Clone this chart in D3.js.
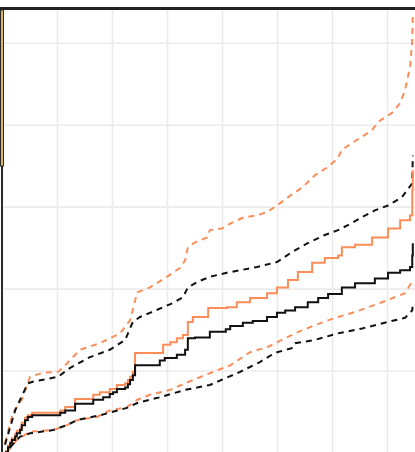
<!DOCTYPE html>
<html><head><meta charset="utf-8">
<script src="https://cdn.jsdelivr.net/npm/d3@7"></script>
<style>html,body{margin:0;padding:0;background:#fff;overflow:hidden}</style>
</head><body>
<svg id="c" width="415" height="452"></svg>
<script>
// x ticks (grid), y ticks (grid)
const xTicks = [100, 200, 300, 400, 500, 600, 700];
const yTicks = [10, 20, 30, 40, 50];

// Group A (black) step estimate
const blackT = [4.5,10,14,17,23,26,32,35,41,46,54,105,114,132,165,183,195,201,208,223,228,232,237,241,286,295,317,332,337,350,377,406,414,437,455,481,499,514,532,555,574,592,617,641,677,701,723,741,745,746];
const blackV = [0.1,0.7,1.2,1.6,2.0,2.4,2.8,3.4,4.0,4.4,4.6,4.9,5.2,6.0,6.5,6.8,7.2,7.4,7.8,8.0,8.4,8.9,9.5,10.7,11.3,11.6,12.0,12.6,14.0,14.1,14.8,15.1,15.5,15.9,16.1,16.6,17.1,17.4,17.8,18.4,18.9,19.4,20.2,20.7,21.3,22.0,22.3,22.7,24.1,25.6];

// Group B (orange) step estimate
const orangeT = [4.5,10,14,17,23,26,32,35,41,46,54,105,114,132,165,177,195,208,223,228,232,237,241,292,305,317,328,337,346,374,408,426,450,481,499,519,537,563,586,610,617,641,672,701,723,741,745,746];
const orangeV = [0.2,0.9,1.3,1.8,2.3,2.7,3.0,3.7,4.3,4.6,4.9,5.2,5.6,6.6,7.1,7.4,7.8,8.3,8.5,8.9,9.3,9.9,12.2,13.2,13.5,14.0,14.4,16.0,16.6,17.7,17.8,18.4,18.9,19.5,20.2,21.1,22.1,23.2,23.8,24.1,25.1,25.4,26.3,27.4,28.4,29.0,32.1,34.5];

// Orange confidence band
const orangeUpT = [4.5,19,35,50,74,101,114,141,177,214,232,245,268,299,323,332,337,350,372,377,399,414,437,463,481,499,519,545,568,592,610,617,635,672,683,708,723,732,741,745,746];
const orangeUpV = [1.2,4.9,6.5,9.3,9.8,9.9,10.7,12.6,13.4,14.6,16.2,19.6,20.2,21.5,22.6,23.5,25.1,25.7,26.3,27.2,27.4,28.0,28.7,29.0,29.4,30.2,31.2,32.4,33.9,34.9,36.0,37.0,37.8,39.4,40.4,41.5,42.7,44.3,47.1,50.4,53.7];
const orangeLoT = [8,26,50,92,117,135,172,195,226,245,268,305,332,368,414,450,481,499,532,568,605,641,690,732,746];
const orangeLoV = [0.1,1.6,2.6,2.8,3.4,4.0,4.4,5.2,5.6,6.5,7.1,7.7,8.5,9.5,10.7,12.3,12.9,13.5,14.6,15.6,16.5,17.2,18.4,19.5,21.1];

// Black confidence band
const blackUpT = [4.5,23,46,55,101,123,159,195,223,237,250,268,310,328,337,355,377,408,432,463,499,526,555,586,610,628,654,677,701,726,745,746];
const blackUpV = [1.0,5.2,8.5,8.7,9.3,10.4,11.7,12.6,13.8,16.0,16.6,17.1,18.3,19.0,20.2,20.9,21.5,22.0,22.3,22.7,23.3,24.5,25.6,26.6,27.2,27.8,28.8,29.6,30.2,31.2,32.9,36.3];
const blackLoT = [14,32,50,92,117,135,177,226,245,286,332,377,432,468,495,526,532,568,610,654,701,732,745,746];
const blackLoV = [0.7,2.0,2.4,2.8,3.4,4.0,4.6,5.5,6.1,6.8,7.7,8.3,9.9,11.1,12.2,12.8,13.4,13.8,14.6,15.2,16.0,16.5,17.4,18.3];

const W = 415, H = 452;
const svg = d3.select("#c");
const x = d3.scaleLinear().domain([0, 750]).range([2.5, 415]);
const y = d3.scaleLinear().domain([0, 54.3]).range([453, 8]);

svg.append("defs").append("clipPath").attr("id","clip")
  .append("rect").attr("x",2).attr("y",9).attr("width",W).attr("height",H);

// grid
const g = svg.append("g");
g.selectAll(".vx").data(xTicks).enter().append("line")
  .attr("x1", d=>x(d)).attr("x2", d=>x(d)).attr("y1", 9).attr("y2", H)
  .attr("stroke","#ebebeb").attr("stroke-width",1.6);
g.selectAll(".hy").data(yTicks).enter().append("line")
  .attr("x1", 2).attr("x2", W).attr("y1", d=>y(d)).attr("y2", d=>y(d))
  .attr("stroke","#ebebeb").attr("stroke-width",1.6);

const plot = svg.append("g").attr("clip-path","url(#clip)");
function zip(t,v){ return t.map((d,i)=>[d,v[i]]); }
const stepLine = d3.line().x(d=>x(d[0])).y(d=>y(d[1])).curve(d3.curveStepAfter);
const lin = d3.line().x(d=>x(d[0])).y(d=>y(d[1]));

const ORANGE = "#fc8d59", BLACK = "#111111";
const series = [
  {t:orangeUpT, v:orangeUpV, c:ORANGE, dash:"6,5", gen:lin},
  {t:orangeLoT, v:orangeLoV, c:ORANGE, dash:"6,5", gen:lin},
  {t:blackUpT, v:blackUpV, c:BLACK, dash:"6,5", gen:lin},
  {t:blackLoT, v:blackLoV, c:BLACK, dash:"6,5", gen:lin},
  {t:orangeT, v:orangeV, c:ORANGE, dash:null, gen:stepLine},
  {t:blackT, v:blackV, c:BLACK, dash:null, gen:stepLine}
];
series.forEach(s=>{
  plot.append("path").attr("d", s.gen(zip(s.t,s.v)))
    .attr("fill","none").attr("stroke", s.c).attr("stroke-width",2)
    .attr("stroke-dasharray", s.dash);
});

// frame: top border, left axis, partial legend box
svg.append("rect").attr("x",0).attr("y",7).attr("width",W).attr("height",3).attr("fill","#222");
svg.append("rect").attr("x",1).attr("y",10).attr("width",2).attr("height",H-10).attr("fill","#2a2a2a");
svg.append("rect").attr("x",0.5).attr("y",10).attr("width",3).attr("height",156)
  .attr("fill","#d9b65f").attr("stroke","#2a2a2a").attr("stroke-width",1);
</script>
</body></html>
